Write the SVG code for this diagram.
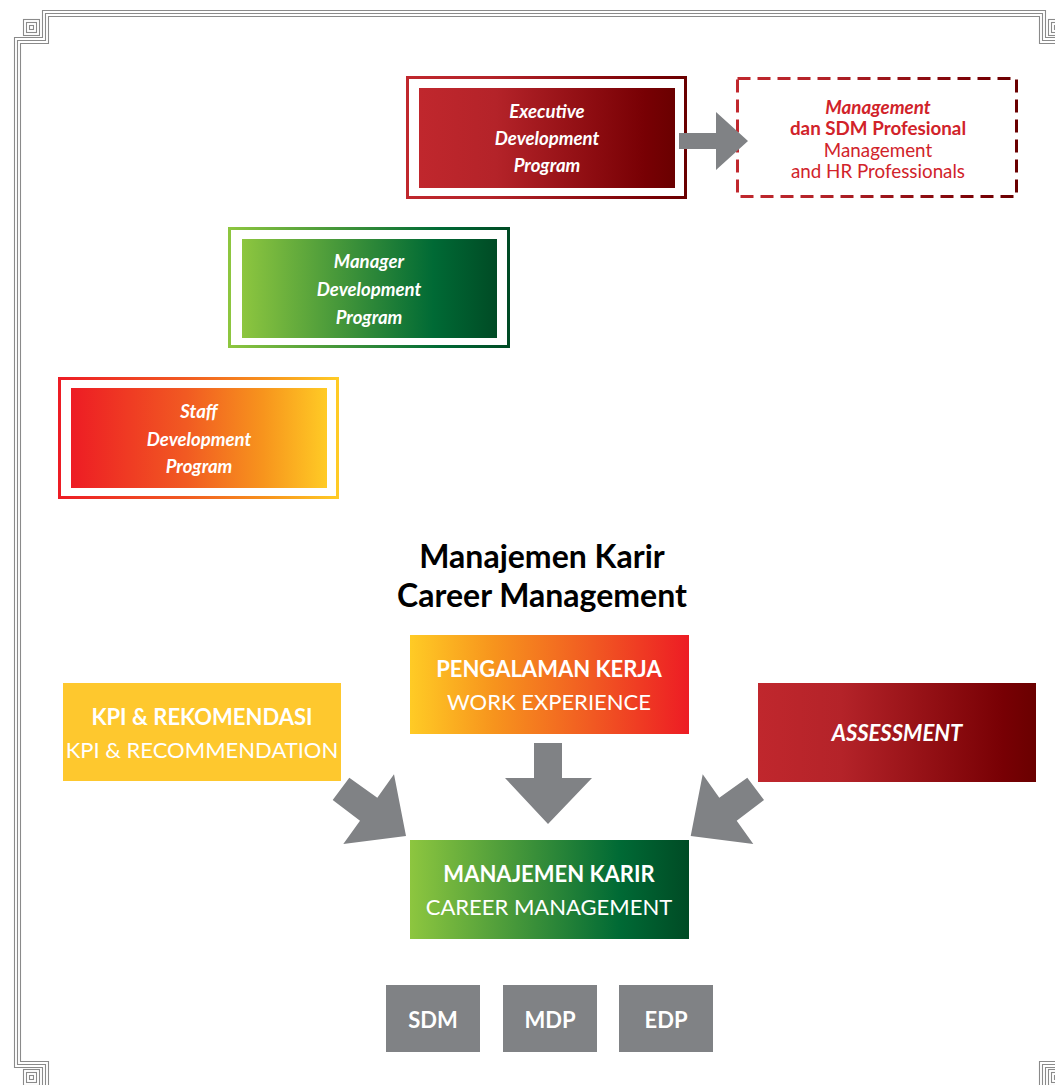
<svg xmlns="http://www.w3.org/2000/svg" xmlns:xlink="http://www.w3.org/1999/xlink" width="1055" height="1085" viewBox="0 0 1055 1085">
<defs>
<linearGradient id="gRed" x1="0" y1="0" x2="1" y2="0">
<stop offset="0" stop-color="#c0272d"/><stop offset="0.3" stop-color="#b42329"/><stop offset="0.88" stop-color="#780004"/><stop offset="1" stop-color="#6a0000"/>
</linearGradient>
<linearGradient id="gGreen" x1="0" y1="0" x2="1" y2="0">
<stop offset="0" stop-color="#8dc63f"/><stop offset="0.75" stop-color="#006a35"/><stop offset="1" stop-color="#004b25"/>
</linearGradient>
<linearGradient id="gWarm" x1="0" y1="0" x2="1" y2="0">
<stop offset="0" stop-color="#ed1c24"/><stop offset="0.45" stop-color="#f15a22"/><stop offset="0.75" stop-color="#f7941d"/><stop offset="1" stop-color="#ffcb25"/>
</linearGradient>
<linearGradient id="gWarmRev" x1="0" y1="0" x2="1" y2="0">
<stop offset="0" stop-color="#ffcb25"/><stop offset="0.3" stop-color="#f7941d"/><stop offset="0.65" stop-color="#f15a22"/><stop offset="1" stop-color="#ed1c24"/>
</linearGradient>
<g id="spiral" fill="none" stroke="#8a8a8a" stroke-width="1.1">
<rect x="0.5" y="0.5" width="16" height="16"/><rect x="3.5" y="3.5" width="10" height="10"/><rect x="6.5" y="6.5" width="4" height="4"/>
</g>
<style>
.frame{fill:none;stroke:#8a8a8a;stroke-width:1.1}
.t{font-family:Lato,"Open Sans","Liberation Sans",sans-serif;text-anchor:middle}
.prog{fill:#fff;font-size:18.6px;font-weight:bold;font-style:italic}
.hb{fill:#fff;font-size:22px;font-weight:bold}
.hr{fill:#fff;font-size:22px;font-weight:normal}
.mh{fill:#d1232a;font-size:18.8px}
.ttl{fill:#000;font-size:32px;font-weight:bold}
.arrow{fill:#808285}
.gray{fill:#808285}
</style>
</defs>
<rect width="1055" height="1085" fill="#fff"/>
<g id="border">
<path class="frame" d="M14.5 37.5 H42.5 V10.5 H1045.5 V37.5 H1073.5 V1067.5 H1045.5 V1094.5 H42.5 V1067.5 H14.5 Z"/>
<path class="frame" d="M17.5 40.5 H45.5 V13.5 H1042.5 V40.5 H1070.5 V1064.5 H1042.5 V1091.5 H45.5 V1064.5 H17.5 Z"/>
<path class="frame" d="M20.5 43.5 H48.5 V16.5 H1039.5 V43.5 H1067.5 V1061.5 H1039.5 V1088.5 H48.5 V1061.5 H20.5 Z"/>
<use xlink:href="#spiral" x="23" y="19"/>
<use xlink:href="#spiral" x="1048" y="19"/>
<use xlink:href="#spiral" x="23" y="1069"/>
<use xlink:href="#spiral" x="1048" y="1069"/>
</g>
<g id="executive">
<rect x="407.5" y="77.5" width="278" height="120" fill="none" stroke="url(#gRed)" stroke-width="3"/>
<rect x="419" y="88" width="256" height="100" fill="url(#gRed)"/>
<text class="t prog" x="547" y="118">Executive</text>
<text class="t prog" x="547" y="145">Development</text>
<text class="t prog" x="547" y="172">Program</text>
</g>
<g id="management-hr">
<rect x="737.5" y="78.5" width="279" height="118" fill="none" stroke="url(#gRed)" stroke-width="3" stroke-dasharray="13 7"/>
<text class="t mh" x="878" y="114" font-weight="bold" font-style="italic">Management</text>
<text class="t mh" x="878" y="135" font-weight="bold">dan SDM Profesional</text>
<text class="t mh" x="878" y="157">Management</text>
<text class="t mh" x="878" y="178">and HR Professionals</text>
</g>
<g id="manager">
<rect x="229.5" y="228.5" width="279" height="118" fill="none" stroke="url(#gGreen)" stroke-width="3"/>
<rect x="242" y="239" width="255" height="99" fill="url(#gGreen)"/>
<text class="t prog" x="369" y="268">Manager</text>
<text class="t prog" x="369" y="296">Development</text>
<text class="t prog" x="369" y="324">Program</text>
</g>
<g id="staff">
<rect x="59.5" y="378.5" width="278" height="119" fill="none" stroke="url(#gWarm)" stroke-width="3"/>
<rect x="71" y="388" width="256" height="100" fill="url(#gWarm)"/>
<text class="t prog" x="199" y="418">Staff</text>
<text class="t prog" x="199" y="446">Development</text>
<text class="t prog" x="199" y="473">Program</text>
</g>
<g id="title">
<text class="t ttl" x="542" y="568">Manajemen Karir</text>
<text class="t ttl" x="542" y="607">Career Management</text>
</g>
<g id="pengalaman">
<rect x="410" y="635" width="279" height="99" fill="url(#gWarmRev)"/>
<text class="t hb" x="549" y="677">PENGALAMAN KERJA</text>
<text class="t hr" x="549" y="710">WORK EXPERIENCE</text>
</g>
<g id="kpi">
<rect x="63" y="683" width="278" height="98" fill="#fec82e"/>
<text class="t hb" x="202" y="725">KPI &amp; REKOMENDASI</text>
<text class="t hr" x="202" y="758">KPI &amp; RECOMMENDATION</text>
</g>
<g id="assessment">
<rect x="758" y="683" width="278" height="99" fill="url(#gRed)"/>
<text class="t hb" x="897" y="741" font-style="italic">ASSESSMENT</text>
</g>
<g id="career">
<rect x="410" y="840" width="279" height="99" fill="url(#gGreen)"/>
<text class="t hb" x="549" y="882">MANAJEMEN KARIR</text>
<text class="t hr" x="549" y="915">CAREER MANAGEMENT</text>
</g>
<g id="sdm">
<rect x="386" y="985" width="94" height="67" class="gray"/>
<text class="t hb" x="433" y="1028">SDM</text>
</g>
<g id="mdp">
<rect x="503" y="985" width="94" height="67" class="gray"/>
<text class="t hb" x="550" y="1028">MDP</text>
</g>
<g id="edp">
<rect x="619" y="985" width="94" height="67" class="gray"/>
<text class="t hb" x="666" y="1028">EDP</text>
</g>
<g id="connectors">
<polygon class="arrow" points="679,133 716,133 716,112 748,141 716,170 716,149 679,149"/>
<polygon class="arrow" points="534,743 562,743 562,778 592,778 548,824 505,778 534,778"/>
<polygon class="arrow" points="332.7,800 349.3,777.7 377.3,797.7 394,774.3 406,836 343.3,844 360,820.7"/>
<polygon class="arrow" points="764,800 747.3,777.7 719.3,797.7 702.7,774.3 690.7,836 753.3,844 736.7,820.7"/>
</g>
</svg>
